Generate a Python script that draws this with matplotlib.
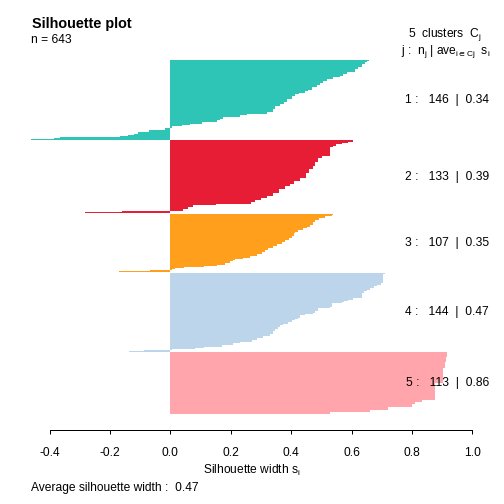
import numpy as np
import matplotlib.pyplot as plt
from matplotlib.transforms import ScaledTranslation

plt.rcParams['font.family'] = ['Liberation Sans', 'DejaVu Sans']
plt.rcParams['mathtext.fontset'] = 'custom'
plt.rcParams['mathtext.rm'] = 'Liberation Sans'
plt.rcParams['mathtext.it'] = 'Liberation Sans:italic'
plt.rcParams['mathtext.bf'] = 'Liberation Sans:bold'
plt.rcParams['mathtext.default'] = 'regular'
plt.rcParams['axes.unicode_minus'] = False

n_total = 643
avg_width = 0.47
cluster_ids = [1, 2, 3, 4, 5]
cluster_sizes = [146, 133, 107, 144, 113]
cluster_avgs = [0.34, 0.39, 0.35, 0.47, 0.86]
colors = ["#2EC4B6", "#E71D36", "#FF9F1C", "#BDD5EA", "#FFA5AB"]
xticks = [-0.4, -0.2, 0.0, 0.2, 0.4, 0.6, 0.8, 1.0]

s1_vals = [0.659, 0.651, 0.645, 0.634, 0.623, 0.612, 0.584, 0.573, 0.562, 0.540,
           0.518, 0.507, 0.496, 0.485, 0.468, 0.457, 0.446, 0.427, 0.413, 0.402,
           0.386, 0.375, 0.364, 0.347, 0.341, 0.319, 0.253, 0.231, 0.176, 0.165,
           0.153, 0.104, 0.065, 0.038, 0.005, -0.005, -0.018, -0.070, -0.106, -0.120,
           -0.139, -0.166, -0.365, -0.385, -0.461]
s1_runs = [2, 2, 4, 4, 4, 5, 5, 3, 2, 4,
           4, 3, 4, 4, 4, 3, 3, 2, 4, 5,
           5, 4, 4, 5, 5, 5, 2, 2, 4, 3,
           3, 3, 3, 2, 2, 1, 4, 3, 3, 2,
           2, 3, 2, 1, 2]

s2_vals = [0.604, 0.589, 0.570, 0.550, 0.539, 0.528, 0.501, 0.490, 0.479, 0.471,
           0.460, 0.450, 0.430, 0.410, 0.398, 0.380, 0.360, 0.340, 0.320, 0.300,
           0.280, 0.268, 0.152, 0.076, 0.060, 0.043, -0.161, -0.282]
s2_runs = [2, 2, 3, 3, 2, 16, 4, 8, 6, 6,
           7, 9, 6, 5, 4, 6, 6, 6, 4, 3,
           4, 4, 2, 4, 3, 3, 3, 2]

s3_vals = [0.538, 0.534, 0.512, 0.494, 0.479, 0.473, 0.462, 0.451, 0.438, 0.424,
           0.414, 0.409, 0.402, 0.394, 0.380, 0.369, 0.352, 0.341, 0.325, 0.314,
           0.303, 0.286, 0.264, 0.240, 0.214, 0.209, 0.198, 0.181, 0.154, 0.110,
           0.044, 0.016, 0.005, -0.067, -0.170]
s3_runs = [2, 3, 3, 4, 4, 4, 4, 3, 3, 3,
           3, 4, 4, 4, 3, 4, 3, 5, 3, 3,
           5, 4, 2, 2, 2, 3, 3, 3, 2, 2,
           2, 2, 2, 2, 2]

s4_vals = [0.714, 0.711, 0.705, 0.698, 0.684, 0.673, 0.662, 0.650, 0.642, 0.636,
           0.606, 0.590, 0.575, 0.567, 0.537, 0.529, 0.490, 0.479, 0.474, 0.446,
           0.429, 0.424, 0.413, 0.402, 0.391, 0.374, 0.363, 0.358, 0.347, 0.339,
           0.330, 0.308, 0.286, 0.270, 0.231, 0.209, 0.172, 0.110, 0.082, 0.004,
           -0.086, -0.137]
s4_runs = [1, 2, 16, 3, 3, 3, 3, 3, 3, 9,
           3, 2, 2, 3, 6, 2, 6, 3, 3, 2,
           5, 2, 2, 3, 3, 3, 3, 4, 4, 4,
           4, 4, 4, 4, 2, 3, 3, 2, 2, 1,
           3, 1]

s5_vals = [0.917, 0.913, 0.910, 0.904, 0.877, 0.833, 0.810, 0.799, 0.722, 0.662, 0.530]
s5_runs = [9, 9, 12, 27, 30, 4, 4, 5, 5, 5, 3]

groups = [(s1_vals, s1_runs), (s2_vals, s2_runs), (s3_vals, s3_runs),
          (s4_vals, s4_runs), (s5_vals, s5_runs)]

W = 504
fig = plt.figure(figsize=(7, 7), dpi=72)
ax = fig.add_axes([13 / W, 1 - 430 / W, 477 / W, 384 / W])

pos = 0.0
centers = []
for k, (vals, runs) in enumerate(groups):
    s = np.repeat(vals, runs)
    y = pos + np.arange(len(s)) + 0.5
    ax.barh(y, s, height=1.0, color=colors[k], linewidth=0, antialiased=False)
    centers.append(y.mean())
    pos += len(s) + 0.5
total = pos - 0.5

pxu = 354 / total
ax.set_ylim(total + 16 / pxu, -14 / pxu)
ax.set_xlim((13 - 170.3) / 302, (490 - 170.3) / 302)

for side in ['top', 'right', 'left']:
    ax.spines[side].set_visible(False)
ax.spines['bottom'].set_bounds(xticks[0], xticks[-1])
ax.spines['bottom'].set_linewidth(1)
ax.set_yticks([])
ax.set_xticks(xticks)
ax.set_xticklabels([f"{t:.1f}" for t in xticks], fontsize=12)
ax.tick_params(axis='x', length=4, width=1, pad=12.5)

fig.text(32 / W, 1 - 28 / W, "Silhouette plot", fontsize=14.4, fontweight='bold', va='baseline')
fig.text(31 / W, 1 - 40 / W, f"n = {n_total}", fontsize=12, va='center')
fig.text(481 / W, 1 - 35 / W, f"{len(cluster_ids)}  clusters  $C_j$", fontsize=12,
         ha='right', va='center')
fig.text(490 / W, 1 - 52 / W, r"j :  $n_j$ | ave$_{i\in Cj}$  $s_i$", fontsize=12,
         ha='right', va='center')

renderer = fig.canvas.get_renderer()
for j, n, a, yc in zip(cluster_ids, cluster_sizes, cluster_avgs, centers):
    t = ax.text(1.0, yc, f"{j} :   {n}  |  {a:.2f}", fontsize=12, va='center', ha='left')
    w = t.get_window_extent(renderer).width
    t.set_transform(ax.transData + ScaledTranslation(-0.8 * w / 72, 0, fig.dpi_scale_trans))

fig.text(251.5 / W, 1 - 470 / W, "Silhouette width $s_i$", fontsize=12, ha='center', va='center')
fig.text(31 / W, 1 - 488 / W, f"Average silhouette width :  {avg_width:.2f}", fontsize=12,
         va='center')

fig.savefig("out.png", dpi=72)
